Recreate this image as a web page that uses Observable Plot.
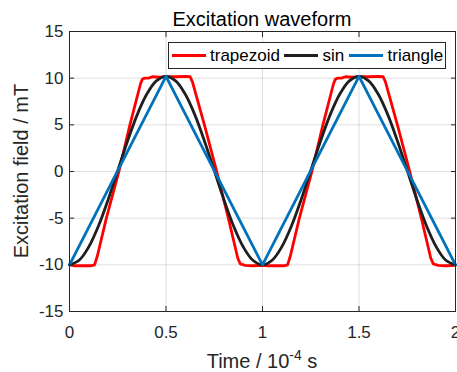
<!DOCTYPE html>
<html>
<head>
<meta charset="utf-8">
<script src="https://cdn.jsdelivr.net/npm/d3@7"></script>
<script src="https://cdn.jsdelivr.net/npm/@observablehq/plot@0.6"></script>
<style>
  html, body { margin: 0; padding: 0; background: #fff; }
  #wrap { position: relative; width: 457px; height: 372px; overflow: hidden; font-family: "Liberation Sans", Arial, sans-serif; color: #262626; }
  #wrap svg { position: absolute; left: 0; top: 0; }
  .t { position: absolute; white-space: nowrap; }
  .legend { position: absolute; left: 168px; top: 42px; width: 278px; height: 27px; box-sizing: border-box; border: 1px solid #262626; background: #fff; }
  .legend .ln { position: absolute; height: 3px; top: 10.5px; width: 34px; }
  .legend .tx { position: absolute; top: 4px; font-size: 17px; line-height: 17px; color: #000; }
</style>
</head>
<body>
<div id="wrap"></div>
<script>
// ---- data (time in 1e-4 s, field in mT) ----
const xTicks = [0, 0.5, 1, 1.5, 2];
const yTicks = [-15, -10, -5, 0, 5, 10, 15];

const trapTime = [0, 0.03, 0.08, 0.11, 0.13, 0.145, 0.191, 0.256, 0.313, 0.368, 0.378, 0.39, 0.41, 0.43, 0.47, 0.5, 0.55, 0.6, 0.625, 0.637, 0.699, 0.763, 0.823, 0.872, 0.885, 0.91, 0.95,
  1.0, 1.03, 1.08, 1.11, 1.13, 1.145, 1.191, 1.256, 1.313, 1.368, 1.378, 1.39, 1.41, 1.43, 1.47, 1.5, 1.55, 1.6, 1.625, 1.637, 1.699, 1.763, 1.823, 1.872, 1.885, 1.91, 1.95, 2.0];
const trapField = [-10.0, -10.1, -10.1, -10.1, -10.0, -9.0, -5, 0, 5, 9.4, 9.9, 10.0, 10.0, 10.15, 10.1, 10.15, 10.15, 10.2, 10.15, 9.6, 5, 0, -5, -9.3, -9.9, -10.05, -10.1,
  -10.05, -10.1, -10.1, -10.1, -10.0, -9.0, -5, 0, 5, 9.4, 9.9, 10.0, 10.0, 10.15, 10.1, 10.15, 10.15, 10.2, 10.15, 9.6, 5, 0, -5, -9.3, -9.9, -10.05, -10.1, -10.05];

const sinTime = [0, 0.05, 0.1, 0.15, 0.2, 0.25, 0.3, 0.35, 0.4, 0.45, 0.5, 0.55, 0.6, 0.65, 0.7, 0.75, 0.8, 0.85, 0.9, 0.95,
  1.0, 1.05, 1.1, 1.15, 1.2, 1.25, 1.3, 1.35, 1.4, 1.45, 1.5, 1.55, 1.6, 1.65, 1.7, 1.75, 1.8, 1.85, 1.9, 1.95, 2.0];
const sinField = [-10.0, -9.51, -8.07, -5.84, -3.02, 0.1, 3.22, 6.04, 8.27, 9.71, 10.2, 9.71, 8.27, 6.04, 3.22, 0.1, -3.02, -5.84, -8.07, -9.51,
  -10.0, -9.51, -8.07, -5.84, -3.02, 0.1, 3.22, 6.04, 8.27, 9.71, 10.2, 9.71, 8.27, 6.04, 3.22, 0.1, -3.02, -5.84, -8.07, -9.51, -10.0];

const triTime = [0, 0.5, 1.0, 1.5, 2.0];
const triField = [-10.0, 10.2, -10.0, 10.2, -10.0];

const seriesNames = ["trapezoid", "sin", "triangle"];
const seriesColors = ["#ff0000", "#1f1f1f", "#0072bd"];

const toRows = (ts, vs) => ts.map((t, i) => ({t, v: vs[i]}));
const trap = toRows(trapTime, trapField);
const sinw = toRows(sinTime, sinField);
const tri = toRows(triTime, triField);

const noLabel = () => "";
const chart = Plot.plot({
  width: 457,
  height: 372,
  marginLeft: 69,
  marginRight: 2,
  marginTop: 31,
  marginBottom: 61,
  style: {fontFamily: "Liberation Sans, Arial, sans-serif", fontSize: "17px", color: "#262626", background: "transparent"},
  x: {domain: [0, 2]},
  y: {domain: [-15, 15]},
  marks: [
    Plot.gridX(xTicks, {stroke: "#262626", strokeOpacity: 0.15}),
    Plot.gridY(yTicks, {stroke: "#262626", strokeOpacity: 0.15}),
    Plot.line(trap, {x: "t", y: "v", stroke: seriesColors[0], strokeWidth: 2.8, strokeLinejoin: "round"}),
    Plot.line(sinw, {x: "t", y: "v", stroke: seriesColors[1], strokeWidth: 2.8, curve: "catmull-rom"}),
    Plot.line(tri, {x: "t", y: "v", stroke: seriesColors[2], strokeWidth: 2.8, strokeLinejoin: "round"}),
    Plot.frame({stroke: "#262626"}),
    Plot.axisX(xTicks, {anchor: "bottom", tickSize: -5, tickPadding: 19, label: null, tickFormat: d => String(d), fill: "#262626"}),
    Plot.axisX(xTicks, {anchor: "top", tickSize: -5, label: null, tickFormat: noLabel}),
    Plot.axisY(yTicks, {anchor: "left", tickSize: -5, tickPadding: 11, label: null, tickFormat: d => String(d), fill: "#262626"}),
    Plot.axisY(yTicks, {anchor: "right", tickSize: -5, label: null, tickFormat: noLabel})
  ]
});

const wrap = document.getElementById("wrap");
wrap.appendChild(chart);

function addText(html, css) {
  const d = document.createElement("div");
  d.className = "t";
  d.innerHTML = html;
  Object.assign(d.style, css);
  wrap.appendChild(d);
  return d;
}
// title
addText("Excitation waveform", {left: "262px", top: "9px", transform: "translateX(-50%)", fontSize: "20px", lineHeight: "20px", color: "#000"});
// x label
addText('Time / 10<span style="font-size:14px;position:relative;top:-8px;line-height:0">-4</span> s',
  {left: "262px", top: "351px", transform: "translateX(-50%)", fontSize: "20px", lineHeight: "20px", color: "#262626"});
// y label
addText("Excitation field / mT", {left: "-129.5px", top: "161px", width: "300px", textAlign: "center", transform: "rotate(-90deg)", fontSize: "20px", lineHeight: "20px", color: "#262626"});

// legend
const leg = document.createElement("div");
leg.className = "legend";
const lineLeft = [3, 114.5, 179.5];
const textLeft = [41, 153.5, 218.5];
seriesNames.forEach((name, i) => {
  const l = document.createElement("div");
  l.className = "ln";
  l.style.left = lineLeft[i] + "px";
  l.style.background = seriesColors[i];
  leg.appendChild(l);
  const s = document.createElement("div");
  s.className = "tx";
  s.style.left = textLeft[i] + "px";
  s.textContent = name;
  leg.appendChild(s);
});
wrap.appendChild(leg);
</script>
</body>
</html>
